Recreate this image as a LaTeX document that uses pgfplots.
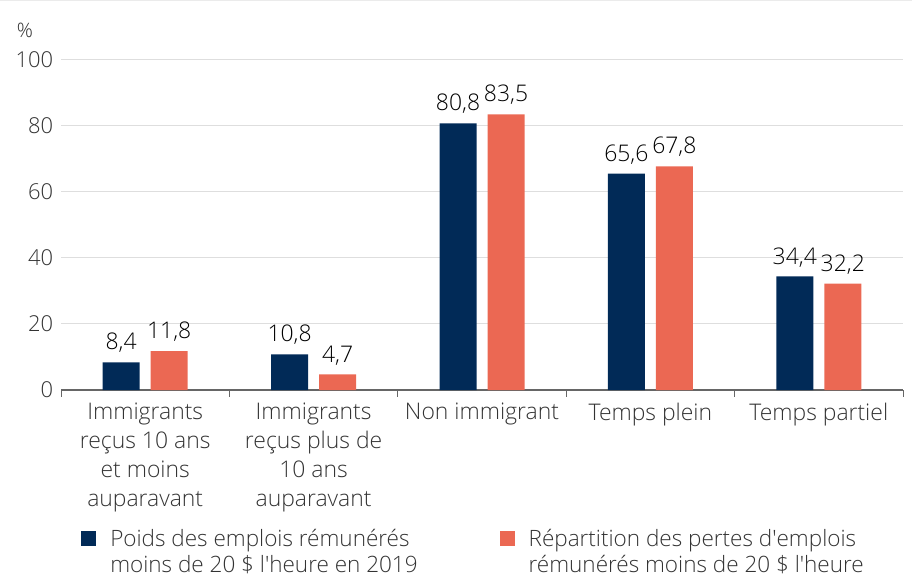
\documentclass[border=0pt]{standalone}
\usepackage{pgfplots}
\pgfplotsset{compat=1.18}
\usepackage{fontspec}
\IfFontExistsTF{Open Sans Light}{\setmainfont{Open Sans Light}}{\setmainfont{Open Sans}}
\definecolor{navy}{HTML}{012A57}
\definecolor{coral}{HTML}{EB6853}
\definecolor{txt}{HTML}{333333}
\begin{document}
\begin{tikzpicture}
\useasboundingbox (0,0) rectangle (912bp,578bp);
\draw[black!8, line width=1bp] (0,577.5bp) -- (912bp,577.5bp);
\begin{axis}[
  at={(61bp,188bp)}, anchor=south west,
  scale only axis, width=842bp, height=330bp,
  ymin=0, ymax=100, ytick={0,20,...,100},
  xmin=-0.5, xmax=4.5,
  ybar=11bp, bar width=37bp,
  axis x line*=bottom, axis y line*=left,
  y axis line style={draw=none},
  x axis line style={-, draw=black!60, line width=1.3bp},
  ytick style={draw=none},
  ymajorgrids, grid style={draw=black!13, line width=1bp},
  xtick={0,...,4},
  xticklabels={{Immigrants\\reçus 10 ans\\et moins\\auparavant},{Immigrants\\reçus plus de\\10 ans\\auparavant},{Non immigrant},{Temps plein},{Temps partiel}},
  major x tick style={draw=none},
  minor xtick={-0.5,0.5,...,4.5},
  minor x tick style={draw=black!60, line width=1bp},
  minor tick length=7bp, tick align=outside,
  y tick label style={font=\fontsize{22}{26}\selectfont, text=txt},
  x tick label style={font=\fontsize{23}{29}\selectfont, text=txt, align=center, yshift=-5bp},
  /pgf/number format/assume math mode=true,
  nodes near coords={\pgfmathprintnumber[fixed,fixed zerofill,precision=1,use comma,assume math mode=true]{\pgfplotspointmeta}},
  every node near coord/.append style={font=\fontsize{23}{26}\selectfont, text=black, yshift=6bp},
  legend style={at={(0.0203,-0.408)}, anchor=north west, draw=none, fill=none,
    legend columns=2, font=\fontsize{22.6}{26.5}\selectfont, text=txt,
    cells={align=left}, /tikz/column 1/.style={column sep=12bp},
    /tikz/column 2/.style={column sep=80bp}, /tikz/column 3/.style={column sep=12bp}},
  legend image code/.code={\fill[#1] (0bp,5bp) rectangle (15bp,20bp);},
  clip=false,
]
\addplot[fill=navy, draw=none] coordinates {(0,8.4) (1,10.8) (2,80.8) (3,65.6) (4,34.4)};
\addlegendentry{Poids des emplois rémunérés\\moins de 20 \$ l\textquotesingle heure en 2019}
\addplot[fill=coral, draw=none] coordinates {(0,11.8) (1,4.7) (2,83.5) (3,67.8) (4,32.2)};
\addlegendentry{Répartition des pertes d\textquotesingle emplois\\rémunérés moins de 20 \$ l\textquotesingle heure}
\node[font=\fontsize{20}{22}\selectfont, text=txt] at (rel axis cs:-0.0428,1.091) {\%};
\end{axis}
\end{tikzpicture}
\end{document}
